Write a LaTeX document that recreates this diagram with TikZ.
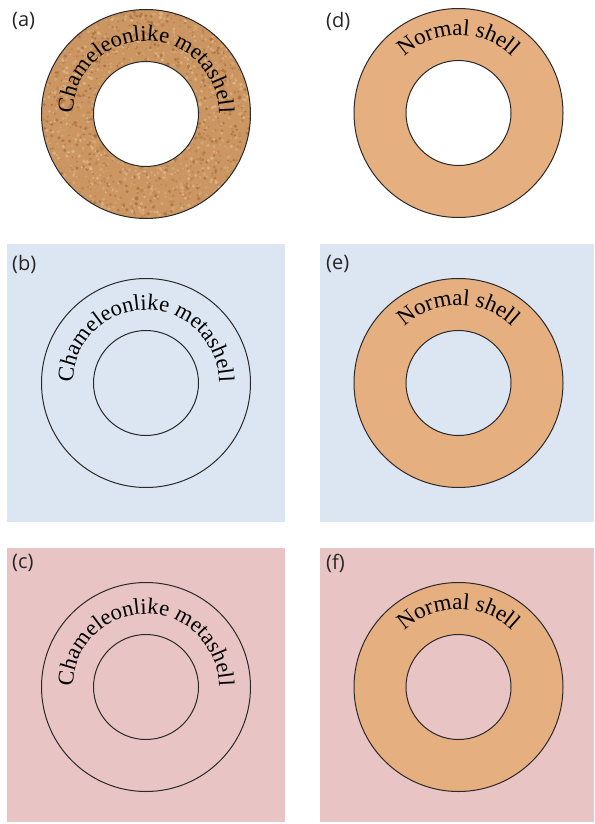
\documentclass[tikz,border=0pt]{standalone}
\usepackage{fontspec}
\setmainfont{Liberation Serif}
\newfontfamily\panelfont{Open Sans}
\usetikzlibrary{decorations.text,calc}

\definecolor{shellorange}{HTML}{E6AF80}
\definecolor{bgblue}{HTML}{DCE6F2}
\definecolor{bgpink}{HTML}{E8C4C4}
\definecolor{corkbase}{HTML}{CB9662}
\definecolor{cork0}{HTML}{A86E3D}
\definecolor{cork1}{HTML}{E2BC8F}
\definecolor{cork2}{HTML}{BB834E}
\definecolor{cork3}{HTML}{D9AD7C}
\definecolor{ringline}{HTML}{2A2A2A}

\tikzset{
  ringedge/.style={draw=ringline, line width=1pt},
  panellabel/.style={font=\panelfont\fontsize{20}{20}\selectfont, anchor=west, inner sep=0pt, text=black!85},
}

% text bent along the upper arc of a ring
\newcommand{\arctext}[4]{% centre, radius, size, text
  \path[decorate, decoration={text along path, text align=center,
      text={|\fontsize{#3}{#3}\selectfont|#4}}]
    ($(#1)+(180:#2)$) arc[start angle=180, end angle=0, radius=#2];
}

\begin{document}
\begin{tikzpicture}[x=1pt, y=1pt]
\useasboundingbox (0,0) rectangle (594,-824);
\fill[white] (0,0) rectangle (594,-824);

% backgrounds of the middle and lower rows
\fill[bgblue] (7,-244) rectangle (285,-522);
\fill[bgblue] (320,-244) rectangle (594,-522);
\fill[bgpink] (7,-548) rectangle (285,-822);
\fill[bgpink] (320,-548) rectangle (594,-822);

% ring centres
\coordinate (A) at (146,-114);
\coordinate (D) at (458.5,-113);
\coordinate (B) at (146,-383);
\coordinate (E) at (458.5,-383);
\coordinate (C) at (146,-687);
\coordinate (F) at (458.5,-687);

% (a) cork-textured metashell
\begin{scope}
  \clip (A) circle (104.5);
  \fill[corkbase] (A) circle (104.5);
  \pgfmathsetseed{4242}
  \foreach \i in {1,...,2400}{
    \pgfmathsetmacro{\px}{105*rand}
    \pgfmathsetmacro{\py}{105*rand}
    \pgfmathsetmacro{\pr}{0.7+1.3*rnd}
    \pgfmathtruncatemacro{\pc}{4*rnd}
    \fill[cork\pc, opacity=0.7, shift={(A)}] (\px,\py) circle (\pr);
  }
\end{scope}
\fill[white] (A) circle (52.5);
\draw[ringedge] (A) circle (104.5);
\draw[ringedge] (A) circle (52.5);
\arctext{A}{73}{22.5}{Chameleonlike metashell}

% (b), (c) invisible metashell: outlines only
\foreach \c in {B,C}{
  \draw[ringedge] (\c) circle (104.5);
  \draw[ringedge] (\c) circle (52.5);
  \arctext{\c}{73}{22.5}{Chameleonlike metashell}
}

% (d), (e), (f) normal shells
\fill[white] (D) circle (52.5);
\foreach \c in {D,E,F}{
  \fill[shellorange, even odd rule] (\c) circle (104.5) (\c) circle (52.5);
  \draw[ringedge] (\c) circle (104.5);
  \draw[ringedge] (\c) circle (52.5);
  \arctext{\c}{78}{23}{Normal shell}
}

% panel labels
\node[panellabel] (la) at (12,-21) {(a)};
\node[panellabel] (lb) at (12,-264) {(b)};
\node[panellabel] (lc) at (12,-563) {(c)};
\node[panellabel] (ld) at (326,-21) {(d)};
\node[panellabel] (le) at (326,-264) {(e)};
\node[panellabel] (lf) at (326,-563) {(f)};
\end{tikzpicture}
\end{document}
